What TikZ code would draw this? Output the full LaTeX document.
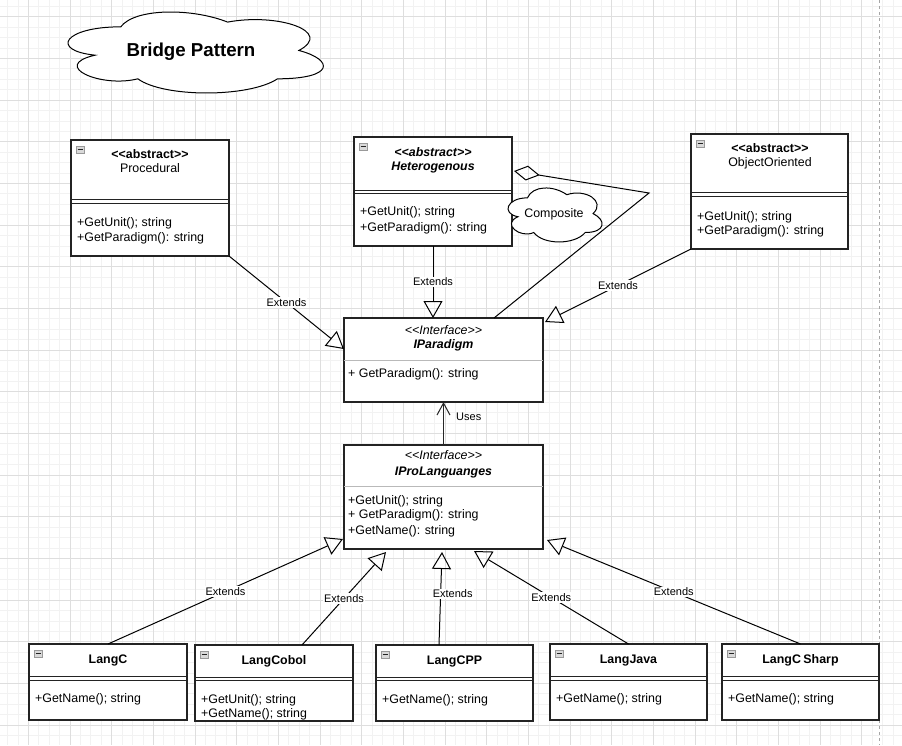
\documentclass[tikz,border=0pt]{standalone}
\usepackage{fontspec}
\setmainfont{Liberation Sans}
\usetikzlibrary{arrows.meta,calc}
\definecolor{lineC}{RGB}{35,35,35}
\definecolor{gridMinor}{RGB}{242,242,242}
\definecolor{gridMajor}{RGB}{222,222,222}
\definecolor{sepGray}{RGB}{185,185,185}
\newcommand{\mylaq}{<\kern0pt<}
\newcommand{\myraq}{>\kern0pt>}
\tikzset{
  umlbox/.style={draw=lineC, line width=1.1pt, fill=white, anchor=north west, inner sep=0pt, outer sep=0pt},
  txt/.style={font=\fontsize{12.4}{14}\selectfont, inner sep=0pt, text=black},
  lbl/.style={font=\fontsize{11}{13}\selectfont, fill=white, inner sep=1pt, text=black},
  extends/.style={draw=black, line width=1pt, -{Triangle[open, length=17pt, width=19pt]}},
  uses/.style={draw=black!85, line width=1pt, -{Straight Barb[length=12pt, width=13pt]}},
  agg/.style={draw=black, line width=1pt, -{Diamond[open, length=26pt, width=15pt]}},
  sepdouble/.style={draw=lineC, line width=1pt},
  sepsingle/.style={draw=sepGray, line width=0.8pt},
  iconst/.style={draw=gray!80, fill=gray!30, line width=0.6pt},
  cloudst/.style={draw=black, line width=1pt, fill=white},
  gmin/.style={draw=gridMinor, line width=0.7pt},
  gmaj/.style={draw=gridMajor, line width=0.8pt},
}
\newcommand{\umlrect}[5]{\node[umlbox, minimum width={#4-#2}, minimum height={#5-#3}] (#1) at (#2,#3) {};}
\newcommand{\dsep}[3]{\draw[sepdouble] (#1.west |- 0,#2) -- (#1.east |- 0,#2); \draw[sepdouble] (#1.west |- 0,#3) -- (#1.east |- 0,#3);}
\newcommand{\ssep}[2]{\draw[sepsingle] (#1.west |- 0,#2) -- (#1.east |- 0,#2);}
\newcommand{\minusicon}[1]{\draw[iconst] ($(#1.north west)+(5,6)$) rectangle ++(8,7); \draw[lineC, line width=0.8pt] ($(#1.north west)+(6.5,9.5)$) -- ++(5,0);}
\newcommand{\ltext}[4]{\node[txt, anchor=base west] (#1) at (#2,#3+4.5) {#4};}
\newcommand{\ctext}[4]{\node[txt, anchor=base] (#1) at (#2,#3+4.5) {#4};}
\newcommand{\cloudpath}{(0.25,0.25) .. controls (0.05,0.25) and (0,0.5) .. (0.16,0.55)
 .. controls (0,0.66) and (0.18,0.9) .. (0.31,0.8)
 .. controls (0.4,1) and (0.7,1) .. (0.8,0.8)
 .. controls (1,0.8) and (1,0.6) .. (0.875,0.5)
 .. controls (1,0.3) and (0.8,0.1) .. (0.625,0.2)
 .. controls (0.5,0.05) and (0.3,0.05) .. (0.25,0.25) -- cycle}
\begin{document}
\begin{tikzpicture}[x=1pt, y=-1pt]
\useasboundingbox (0,0) rectangle (902,745);
\fill[white] (0,0) rectangle (902,745);
% grid
\foreach \i in {0,...,86} {\draw[gmin] ({7.5+10.4167*\i},0) -- ({7.5+10.4167*\i},745);}
\foreach \j in {0,...,71} {\draw[gmin] (0,{6.3+10.4167*\j}) -- (902,{6.3+10.4167*\j});}
\foreach \i in {0,...,20} {\draw[gmaj] ({28.3+41.667*\i},0) -- ({28.3+41.667*\i},745);}
\foreach \j in {0,...,17} {\draw[gmaj] (0,{16.7+41.667*\j}) -- (902,{16.7+41.667*\j});}
\draw[gray!70, dashed, line width=0.7pt] (879,0) -- (879,745);

% title cloud
\begin{scope}[shift={(49.5,3.2)}, x=285pt, y=-94.5pt]
  \draw[cloudst] \cloudpath;
\end{scope}
\node[font=\fontsize{18.7}{22}\selectfont\bfseries, inner sep=0pt, anchor=base] (title) at (191,56.7) {Bridge Pattern};

% Procedural
\umlrect{proc}{71}{140}{229}{256}
\minusicon{proc}
\dsep{proc}{199}{203}
\ctext{proct1}{150}{154}{\bfseries \mylaq abstract\myraq}
\ctext{proct2}{150}{168}{Procedural}
\ltext{procm1}{77}{222}{+GetUnit(); string}
\ltext{procm2}{77}{237}{+GetParadigm(): string}

% Heterogenous
\umlrect{het}{354}{137}{512}{246}
\minusicon{het}
\dsep{het}{190}{193.5}
\ctext{hett1}{433}{152}{\bfseries\itshape \mylaq abstract\myraq}
\ctext{hett2}{433}{166}{\bfseries\itshape Heterogenous}
\ltext{hetm1}{360}{211}{+GetUnit(); string}
\ltext{hetm2}{360}{227}{+GetParadigm(): string}

% ObjectOriented
\umlrect{oo}{691}{134}{848}{249}
\minusicon{oo}
\dsep{oo}{192}{196}
\ctext{oot1}{770}{148}{\bfseries \mylaq abstract\myraq}
\ctext{oot2}{770}{162}{ObjectOriented}
\ltext{oom1}{697}{216}{+GetUnit(); string}
\ltext{oom2}{697}{230}{+GetParadigm(): string}

% IParadigm
\umlrect{ipar}{344}{318}{543}{402}
\ssep{ipar}{360}
\ctext{ipart1}{443.5}{330}{\itshape \mylaq Interface\myraq}
\ctext{ipart2}{443.5}{344}{\bfseries\itshape IParadigm}
\ltext{iparm1}{348}{373}{+ GetParadigm(): string}

% IProLanguanges
\umlrect{ipl}{344}{445}{543}{549}
\ssep{ipl}{486}
\ctext{iplt1}{443.5}{455}{\itshape \mylaq Interface\myraq}
\ctext{iplt2}{443.5}{471}{\bfseries\itshape IProLanguanges}
\ltext{iplm1}{348}{500}{+GetUnit(); string}
\ltext{iplm2}{348}{514}{+ GetParadigm(): string}
\ltext{iplm3}{348}{530}{+GetName(): string}

% bottom classes
\umlrect{langc}{29}{644}{187}{720}
\minusicon{langc}
\dsep{langc}{676.5}{680}
\ctext{langct}{108}{659}{\bfseries LangC}
\ltext{langcm}{35}{698}{+GetName(); string}

\umlrect{cobol}{195}{645}{353}{721}
\minusicon{cobol}
\dsep{cobol}{677}{680.5}
\ctext{cobolt}{274}{660}{\bfseries LangCobol}
\ltext{cobolm1}{201}{699}{+GetUnit(); string}
\ltext{cobolm2}{201}{713}{+GetName(); string}

\umlrect{cpp}{376}{645}{533}{721}
\minusicon{cpp}
\dsep{cpp}{677}{680.5}
\ctext{cppt}{454.5}{660}{\bfseries LangCPP}
\ltext{cppm}{382}{699}{+GetName(); string}

\umlrect{java}{550}{644}{707}{720}
\minusicon{java}
\dsep{java}{676.5}{680}
\ctext{javat}{628.5}{659}{\bfseries LangJava}
\ltext{javam}{556}{698}{+GetName(); string}

\umlrect{cs}{722}{644}{879}{720}
\minusicon{cs}
\dsep{cs}{676.5}{680}
\ctext{cst}{800.5}{659}{\bfseries LangC\kern2.5pt Sharp}
\ltext{csm}{728}{698}{+GetName(); string}

% composite cloud
\begin{scope}[shift={(501.2,182.1)}, x=105pt, y=-63pt]
  \draw[cloudst] \cloudpath;
\end{scope}
\node[txt, anchor=base] (comp) at (554,217.5) {Composite};

% connectors
\draw[extends] (proc.south east) -- (ipar.west |- 0,349) node[lbl, pos=0.5] {Extends};
\draw[extends] (het.south) -- (ipar.north -| het.south) node[lbl, pos=0.5] {Extends};
\draw[extends] (oo.south west) -- ($(ipar.north east)+(2,4)$) node[lbl, pos=0.5] {Extends};
\coordinate (aggc) at (649,193);
\draw[agg] (ipar.north -| 494,0) -- (aggc) -- ($(het.east |- 0,171)+(2,0)$);
\draw[uses] (ipl.north) -- (ipar.south);
\node[font=\fontsize{11}{13}\selectfont, inner sep=0pt, anchor=west] (useslbl) at (456,417) {Uses};

\draw[extends] (langc.north) -- ($(ipl.south west)+(-1,-10)$) node[lbl, pos=0.5] {Extends};
\draw[extends] ($(cobol.north)+(28,0)$) -- ($(ipl.south west)+(42,3)$) node[lbl, pos=0.5] {Extends};
\draw[extends] ($(cpp.north)+(-15.5,0)$) -- ($(ipl.south)+(-1.5,3)$) node[lbl, pos=0.55, xshift=12pt] {Extends};
\draw[extends] (java.north) -- ($(ipl.south)+(30.5,2)$) node[lbl, pos=0.5] {Extends};
\draw[extends] (cs.north) -- ($(ipl.south east)+(4,-9)$) node[lbl, pos=0.5] {Extends};
\end{tikzpicture}
\end{document}
